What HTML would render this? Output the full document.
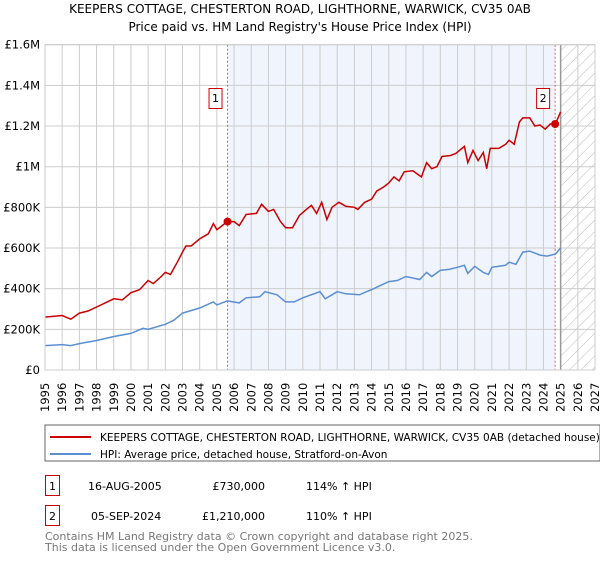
<!DOCTYPE html>
<html><head><meta charset="utf-8"><style>
body{margin:0;background:#fff;font-family:"DejaVu Sans","Liberation Sans",sans-serif;}
svg text{font-family:"DejaVu Sans","Liberation Sans",sans-serif;}
</style></head><body>
<svg id="c" width="600" height="560" xmlns="http://www.w3.org/2000/svg">
<defs><pattern id="h" width="8" height="8" patternUnits="userSpaceOnUse" patternTransform="rotate(45)"><line x1="0" y1="0" x2="0" y2="8" stroke="#bbb" stroke-width="1"/></pattern></defs>
<text x="300" y="13" text-anchor="middle" font-size="12">KEEPERS COTTAGE, CHESTERTON ROAD, LIGHTHORNE, WARWICK, CV35 0AB</text>
<text x="300" y="31" text-anchor="middle" font-size="12">Price paid vs. HM Land Registry's House Price Index (HPI)</text>
<g id="plot"></g>
<rect x="45" y="425" width="555" height="36" fill="#fff" stroke="#666"/>
<line x1="50" y1="437" x2="91" y2="437" stroke="#cc0000" stroke-width="2"/>
<text x="100" y="441" font-size="10.5">KEEPERS COTTAGE, CHESTERTON ROAD, LIGHTHORNE, WARWICK, CV35 0AB (detached house)</text>
<line x1="50" y1="454" x2="91" y2="454" stroke="#5b8fd4" stroke-width="2"/>
<text x="100" y="458" font-size="10.5">HPI: Average price, detached house, Stratford-on-Avon</text>
<g>
<rect x="45.5" y="475.5" width="14" height="20" fill="none" stroke="#cc0000"/><text x="52.5" y="490" text-anchor="middle" font-size="11">1</text>
<text x="88" y="490" font-size="11">16-AUG-2005</text><text x="265" y="490" text-anchor="end" font-size="11">£730,000</text><text x="306" y="490" font-size="11">114% ↑ HPI</text></g>
<g>
<rect x="45.5" y="505.5" width="14" height="20" fill="none" stroke="#cc0000"/><text x="52.5" y="520" text-anchor="middle" font-size="11">2</text>
<text x="91" y="520" font-size="11">05-SEP-2024</text><text x="265" y="520" text-anchor="end" font-size="11">£1,210,000</text><text x="306" y="520" font-size="11">110% ↑ HPI</text></g>
<text x="45" y="540" font-size="11" fill="#777">Contains HM Land Registry data © Crown copyright and database right 2025.</text>
<text x="45" y="551" font-size="11" fill="#777">This data is licensed under the Open Government Licence v3.0.</text>
</svg>
<script>
const yTicks=[0,200000,400000,600000,800000,1000000,1200000,1400000,1600000];
const yTickLabels=["£0","£200K","£400K","£600K","£800K","£1M","£1.2M","£1.4M","£1.6M"];
const years=[1995,1996,1997,1998,1999,2000,2001,2002,2003,2004,2005,2006,2007,2008,2009,2010,2011,2012,2013,2014,2015,2016,2017,2018,2019,2020,2021,2022,2023,2024,2025,2026,2027];
const propT=[1995,1996,1996.5,1997,1997.5,1998,1998.5,1999,1999.5,2000,2000.5,2001,2001.3,2001.7,2002,2002.3,2002.7,2003,2003.2,2003.5,2004,2004.5,2004.8,2005,2005.6,2006,2006.3,2006.7,2007.3,2007.6,2008,2008.3,2008.7,2009,2009.4,2009.8,2010.2,2010.5,2010.8,2011.1,2011.4,2011.7,2012.1,2012.5,2013,2013.2,2013.6,2014,2014.3,2014.7,2015,2015.3,2015.6,2015.9,2016.4,2016.9,2017.2,2017.5,2017.8,2018.1,2018.6,2018.9,2019.4,2019.6,2019.9,2020.2,2020.5,2020.7,2020.9,2021.4,2021.8,2022,2022.3,2022.6,2022.8,2023.2,2023.5,2023.8,2024.1,2024.4,2024.7,2025];
const propV=[260,268,250,280,290,310,330,350,345,380,395,440,425,455,480,470,530,580,610,610,645,670,720,690,730,730,710,765,770,815,780,790,730,700,700,760,790,810,770,825,740,800,825,805,800,790,825,840,880,900,920,950,930,975,980,950,1020,990,1000,1050,1055,1065,1100,1020,1080,1030,1070,990,1090,1090,1110,1130,1110,1220,1240,1240,1200,1205,1185,1210,1210,1270];
const hpiT=[1995,1996,1996.5,1997,1998,1999,2000,2000.7,2001,2002,2002.5,2003,2004,2004.8,2005,2005.6,2006.3,2006.7,2007.5,2007.8,2008.5,2009,2009.5,2010,2011,2011.3,2011.7,2012,2012.5,2013.3,2013.7,2014,2014.5,2015,2015.5,2016,2016.8,2017.2,2017.5,2018,2018.5,2019,2019.4,2019.6,2020,2020.5,2020.8,2021,2021.8,2022,2022.4,2022.8,2023.2,2023.8,2024.2,2024.7,2025];
const hpiV=[120,125,120,130,145,165,180,205,200,225,245,280,305,335,320,340,330,355,360,385,370,335,335,355,385,350,370,385,375,370,385,395,415,435,440,460,445,480,460,490,495,505,515,475,510,480,470,505,515,530,520,580,585,565,560,570,600];
const sales=[{t:2005.62,v:730},{t:2024.68,v:1210}];
const saleLabels=["1","2"];
const NS="http://www.w3.org/2000/svg";
const X0=45,X1=595,Y0=370,Y1=44.7;
function x(t){return X0+(t-1995)/(2027-1995)*(X1-X0);}
function y(v){return Y0-v/1600000*(Y0-Y1);}
function mk(tag,a,p){const e=document.createElementNS(NS,tag);for(const k in a)e.setAttribute(k,a[k]);(p||plot).appendChild(e);return e;}
const plot=document.getElementById('plot');
let r=mk('rect',{x:x(2025),y:Y1,width:X1-x(2025),height:Y0-Y1,fill:'url(#h)'});


r=mk('rect',{x:x(sales[0].t),y:Y1,width:x(sales[1].t)-x(sales[0].t),height:Y0-Y1,fill:'#f0f4fc'});


years.forEach(yr=>{
 const l=mk('line',{x1:x(yr),x2:x(yr),y1:Y1,y2:Y0,stroke:'#ccc'});
 
 
 const t=mk('text',{transform:`translate(${x(yr)+4},${Y0+42}) rotate(-90)`,'font-size':'11.5'});
 t.textContent=yr;
 
 
});
yTicks.forEach((v,i)=>{
 const l=mk('line',{x1:X0,x2:X1,y1:y(v),y2:y(v),stroke:'#ccc'});
 
 
 const t=mk('text',{x:40,y:y(v)+4,'text-anchor':'end','font-size':'11.5'});
 t.textContent=yTickLabels[i];
 
 
});
const nl=mk('line',{x1:x(2025),x2:x(2025),y1:Y1,y2:Y0,stroke:'#999','stroke-width':1.5});


sales.forEach((s,i)=>{
 const l=mk('line',{x1:x(s.t),x2:x(s.t),y1:Y1,y2:Y0,stroke:'#e06060','stroke-dasharray':'2,2'});
 
 
 const b=mk('rect',{x:x(s.t)-18.5,y:88.5,width:13,height:20,fill:'#fff',stroke:'#cc0000'});
 
 
 const t=mk('text',{x:x(s.t)-12,y:102,'text-anchor':'middle','font-size':'11'});
 t.textContent=saleLabels[i];
 
 
});
function path(T,V,c){return T.map((t,i)=>(i?'L':'M')+x(t).toFixed(1)+','+y(V[i]*1000).toFixed(1)).join('');}
let p=mk('path',{d:path(hpiT,hpiV),fill:'none',stroke:'#5b8fd4','stroke-width':1.5});


p=mk('path',{d:path(propT,propV),fill:'none',stroke:'#cc0000','stroke-width':1.5});


sales.forEach(s=>{
 const c=mk('circle',{cx:x(s.t),cy:y(s.v*1000),r:4,fill:'#cc0000'});
 
 
});
const ax=mk('rect',{x:X0,y:Y1,width:X1-X0,height:Y0-Y1,fill:'none',stroke:'#ccc'});


</script>
</body></html>
